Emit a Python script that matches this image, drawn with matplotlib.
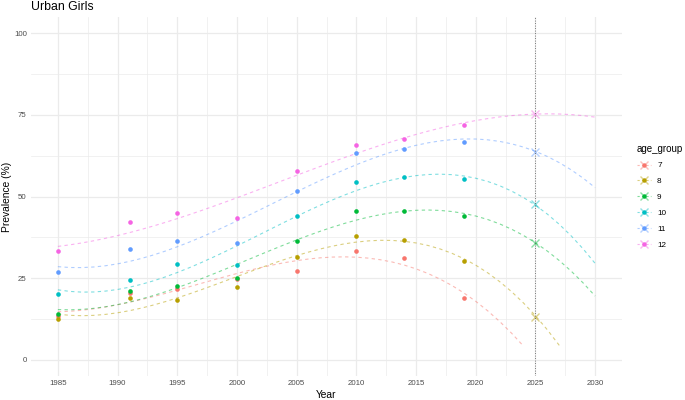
import numpy as np
import matplotlib
matplotlib.use('Agg')
import matplotlib.pyplot as plt
from matplotlib.lines import Line2D
from matplotlib.legend_handler import HandlerTuple
from matplotlib.ticker import MultipleLocator

plt.rcParams['font.family'] = ['Liberation Sans', 'DejaVu Sans']

# survey years and observed prevalence per age group
years = [1985, 1991, 1995, 2000, 2005, 2010, 2014, 2019]
age_groups = ['7', '8', '9', '10', '11', '12']
prev_7 = [13.4, 20.5, 21.6, 24.8, 27.2, 33.4, 31.3, 19.0]
prev_8 = [12.6, 18.8, 18.2, 22.4, 31.6, 37.9, 36.8, 30.2]
prev_9 = [14.0, 21.0, 22.7, 24.9, 36.3, 45.5, 45.6, 44.1]
prev_10 = [20.2, 24.4, 29.4, 29.0, 44.1, 54.4, 56.1, 55.5]
prev_11 = [26.8, 34.0, 36.4, 35.7, 51.7, 63.4, 64.5, 66.8]
prev_12 = [33.3, 42.2, 44.8, 43.3, 57.7, 65.8, 67.6, 72.0]
observed = [prev_7, prev_8, prev_9, prev_10, prev_11, prev_12]

# 2025 projections (age 7 falls below 0, not shown)
pred_year = 2025
pred_2025 = [np.nan, 13.1, 35.7, 47.7, 63.6, 75.2]

colors = ['#F8766D', '#B79F00', '#00BA38', '#00BFC4', '#619CFF', '#F564E3']

fig = plt.figure(figsize=(6.85, 4.0), dpi=100)
ax = fig.add_axes([31/685, 24/400, (622-31)/685, (383-24)/400])

# cubic trend per age group, dropped where it goes below 0
grid_years = np.arange(1985, 2031)
yrs = np.array(years, dtype=float)
for vals, c in zip(observed, colors):
    coef = np.polyfit(yrs - 2000, vals, 3)
    fit = np.polyval(coef, grid_years - 2000)
    fit = np.where(fit < 0, np.nan, fit)
    ax.plot(grid_years, fit, color=c, lw=0.8, ls=(0, (3, 3)), alpha=0.5, zorder=3)
    ax.scatter(years, vals, color=c, s=11, zorder=4, linewidths=0)

for p, c in zip(pred_2025, colors):
    ax.plot([pred_year], [p], marker='x', color=c, ms=6, mew=1.0, alpha=0.45, zorder=5)

ax.axvline(pred_year, color='#555555', lw=0.6, ls=(0, (1, 2)), zorder=6)

ax.set_xlim(1982.75, 2032.25)
ax.set_ylim(-5, 105)
ax.set_xticks(range(1985, 2031, 5))
ax.set_yticks([0, 25, 50, 75, 100])
ax.xaxis.set_minor_locator(MultipleLocator(2.5))
ax.yaxis.set_minor_locator(MultipleLocator(12.5))
ax.grid(which='major', color='#EBEBEB', lw=0.9)
ax.grid(which='minor', color='#EBEBEB', lw=0.5)
ax.set_axisbelow(True)
for s in ax.spines.values():
    s.set_visible(False)
ax.tick_params(which='both', length=0, labelsize=5.7, labelcolor='#4D4D4D', pad=3)

ax.set_xlabel('Year', fontsize=7.4, labelpad=2)
fig.text(7/685, 0.5 * (24/400 + 383/400), 'Prevalence (%)', fontsize=7.4,
         rotation=90, ha='center', va='center')
fig.text(31/685, 1 - 6.5/400, 'Urban Girls', fontsize=8.8, ha='left', va='center')

handles = []
for c in colors:
    h = (Line2D([], [], color=c, lw=0.8, ls=(0, (2, 2)), alpha=0.5),
         Line2D([], [], color=c, marker='o', ms=3.2, lw=0, mew=0),
         Line2D([], [], color=c, marker='x', ms=6, lw=0, alpha=0.45))
    handles.append(h)
leg = fig.legend(handles, age_groups, title='age_group', loc='upper left',
                 bbox_to_anchor=(637/685, 1 - 143.5/400), frameon=False,
                 handler_map={tuple: HandlerTuple(ndivide=1)}, numpoints=1,
                 fontsize=5.9, title_fontsize=7.0, handlelength=1.7,
                 labelspacing=1.0, handletextpad=0.75, borderaxespad=0,
                 borderpad=0)
leg._legend_box.align = 'left'

fig.savefig('out.png', dpi=100)
